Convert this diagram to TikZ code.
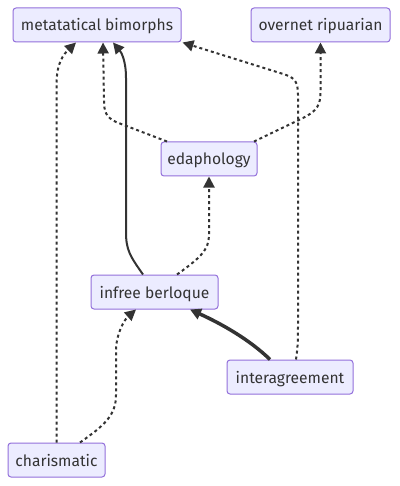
\documentclass[tikz,border=0pt]{standalone}
\usepackage{fontspec}
\setmainfont{Fira Sans}
\usetikzlibrary{arrows.meta}
\definecolor{boxfill}{HTML}{ECECFF}
\definecolor{boxline}{HTML}{9370DB}
\definecolor{ink}{HTML}{333333}
\tikzset{
  box/.style={draw=boxline, fill=boxfill, line width=1pt, rounded corners=3pt,
    minimum height=34pt, inner xsep=0pt, text height=12pt, text depth=0pt,
    text=ink, font=\fontsize{15.6}{18}\selectfont},
  tip/.style={-{Triangle[length=11pt,width=11pt]}},
  link/.style={tip, draw=ink, line width=2pt},
  dotlink/.style={link, dash pattern=on 3pt off 3pt},
  heavylink/.style={tip, draw=ink, line width=3.5pt},
}
\begin{document}
\begin{tikzpicture}[x=1pt,y=-1pt]
\useasboundingbox (0,0) rectangle (399,486);
\fill[white] (0,0) rectangle (399,486);

\node[box, minimum width=168pt] (mb) at (97,25) {metatatical bimorphs};
\node[box, minimum width=139pt] (or) at (320.5,25) {overnet ripuarian};
\node[box, minimum width=96pt]  (ed) at (209,159) {edaphology};
\node[box, minimum width=127pt] (ib) at (154.5,292) {infree berloque};
\node[box, minimum width=126pt] (ia) at (290,377) {interagreement};
\node[box, minimum width=97pt]  (ch) at (56.5,460) {charismatic};

% charismatic -> metatatical bimorphs
\draw[dotlink] (ch.north) -- (56.5,85) .. controls (56.5,62) and (64,54) .. ([xshift=-21]mb.south);
% edaphology -> metatatical bimorphs
\draw[dotlink] ([xshift=-42]ed.north) -- (116,122) .. controls (106,117) and (104,112) .. (104,100) -- ([xshift=6]mb.south);
% infree berloque -> metatatical bimorphs
\draw[link] ([xshift=-11.5]ib.north) .. controls (130,256) and (126,250) .. (126,232) -- (126,78) .. controls (126,60) and (121,52) .. ([xshift=16]mb.south);
% interagreement -> metatatical bimorphs
\draw[dotlink] ([xshift=6]ia.north) .. controls (298,345) and (298,340) .. (298,320) -- (298,95) .. controls (298,80) and (294,77) .. (280,73) -- ([xshift=1]mb.south east);
% edaphology -> overnet ripuarian
\draw[dotlink] ([xshift=45]ed.north) -- (303,118) .. controls (317,111) and (320.5,105) .. (320.5,92) -- (or.south);
% infree berloque -> edaphology
\draw[dotlink] ([xshift=22.5]ib.north) .. controls (200,258) and (209,250) .. (209,235) -- (ed.south);
% interagreement -> infree berloque
\draw[heavylink] ([xshift=-20]ia.north) .. controls (250,340) and (222,324) .. ([xshift=35.5]ib.south);
% charismatic -> infree berloque
\draw[dotlink] ([xshift=23.5]ch.north) .. controls (105,425) and (116,415) .. (116,395) -- (116,350) .. controls (116,335) and (124,320) .. ([xshift=-18.5]ib.south);
\end{tikzpicture}
\end{document}
